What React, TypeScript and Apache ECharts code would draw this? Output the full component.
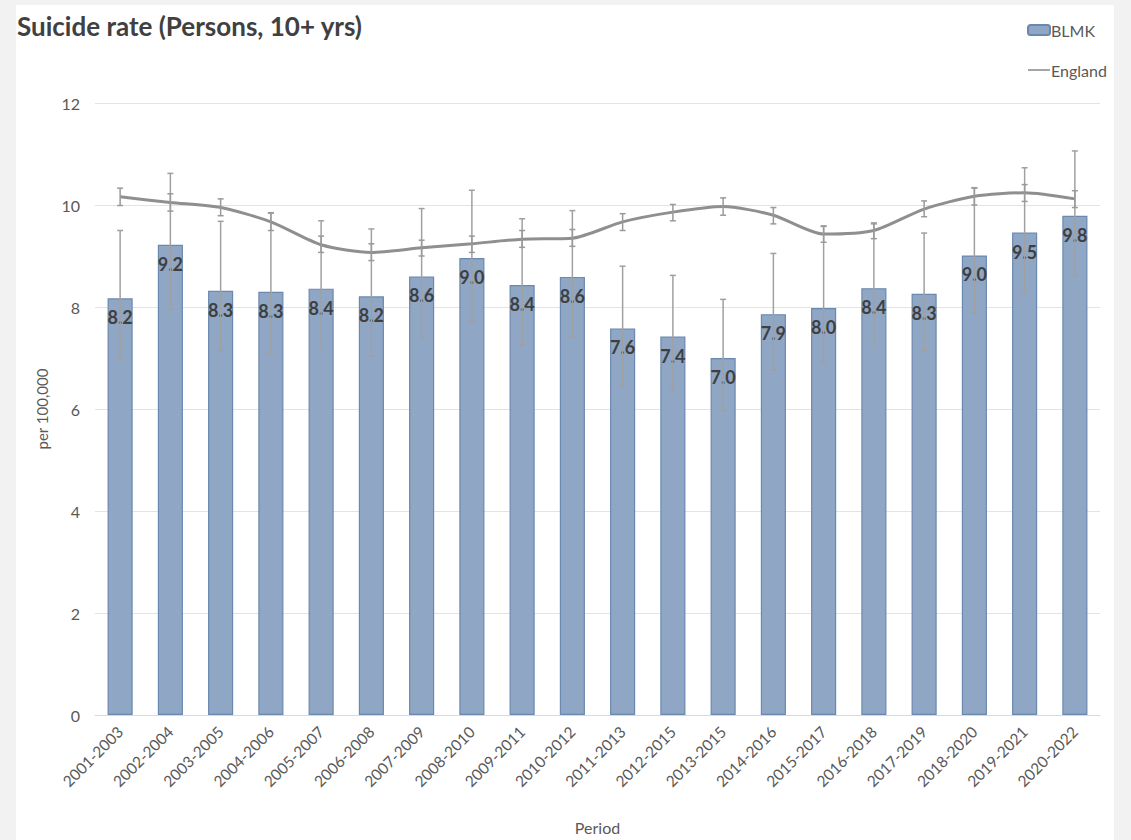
import React, { useEffect, useRef } from "react";
import * as echarts from "echarts";

const periods = [
  "2001-2003", "2002-2004", "2003-2005", "2004-2006", "2005-2007",
  "2006-2008", "2007-2009", "2008-2010", "2009-2011", "2010-2012",
  "2011-2013", "2012-2015", "2013-2015", "2014-2016", "2015-2017",
  "2016-2018", "2017-2019", "2018-2020", "2019-2021", "2020-2022",
];
const blmk = [8.17, 9.22, 8.32, 8.3, 8.36, 8.21, 8.6, 8.96, 8.43, 8.59, 7.58, 7.42, 7.0, 7.86, 7.98, 8.37, 8.26, 9.01, 9.46, 9.79];
const blmkLow = [6.96, 7.95, 7.13, 7.11, 7.17, 7.04, 7.4, 7.73, 7.26, 7.41, 6.47, 6.36, 5.97, 6.76, 6.9, 7.28, 7.15, 7.88, 8.29, 8.62];
const blmkHigh = [9.5, 10.62, 9.68, 9.85, 9.69, 9.53, 9.93, 10.29, 9.73, 9.89, 8.8, 8.62, 8.15, 9.05, 9.58, 9.65, 9.45, 10.34, 10.73, 11.06];
const england = [10.16, 10.05, 9.95, 9.67, 9.22, 9.07, 9.16, 9.24, 9.33, 9.35, 9.67, 9.86, 9.97, 9.8, 9.43, 9.5, 9.92, 10.17, 10.24, 10.12];
const englandLow = [9.99, 9.88, 9.79, 9.5, 9.07, 8.91, 9.0, 9.07, 9.17, 9.19, 9.5, 9.69, 9.8, 9.63, 9.27, 9.34, 9.77, 10.0, 10.07, 9.95];
const englandHigh = [10.33, 10.22, 10.12, 9.84, 9.39, 9.24, 9.31, 9.39, 9.5, 9.52, 9.83, 10.01, 10.14, 9.95, 9.59, 9.63, 10.08, 10.33, 10.4, 10.28];
const yTicks = [0, 2, 4, 6, 8, 10, 12];

const FONT = "Lato, 'Open Sans', sans-serif";
const TEXT = "#595959";
const ERR = "#a0a0a0";

function errorRender(color: string) {
  return (params: any, api: any) => {
    const x = api.value(0);
    const lo = api.coord([x, api.value(1)]);
    const hi = api.coord([x, api.value(2)]);
    const c = 3;
    const style = { stroke: color, lineWidth: 1.5 };
    return {
      type: "group",
      children: [
        { type: "line", shape: { x1: lo[0], y1: lo[1], x2: hi[0], y2: hi[1] }, style },
        { type: "line", shape: { x1: lo[0] - c, y1: lo[1], x2: lo[0] + c, y2: lo[1] }, style },
        { type: "line", shape: { x1: hi[0] - c, y1: hi[1], x2: hi[0] + c, y2: hi[1] }, style },
      ],
    };
  };
}

export default function App() {
  const ref = useRef<HTMLDivElement>(null);
  useEffect(() => {
    document.body.style.margin = "0";
    const chart = echarts.init(ref.current!, null, { renderer: "svg" });
    chart.setOption({
      animation: false,
      backgroundColor: "#f2f2f2",
      graphic: {
        elements: [
          {
            type: "rect",
            z: -10,
            silent: true,
            shape: { x: 16, y: 5, width: 1098, height: 840 },
            style: { fill: "#ffffff" },
          },
          {
            type: "text",
            left: 17,
            top: 13,
            style: {
              text: "Suicide rate (Persons, 10+ yrs)",
              font: `bold 26px ${FONT}`,
              fill: "#404040",
            },
          },
        ],
      },
      legend: {
        orient: "vertical",
        left: 1022,
        top: 17,
        itemGap: 24,
        itemWidth: 22,
        itemHeight: 10,
        data: [
          { name: "BLMK" },
          { name: "England", icon: "path://M0,4.2L22,4.2L22,5.8L0,5.8Z" },
        ],
        textStyle: { fontFamily: FONT, fontSize: 16, color: TEXT, padding: [0, 0, 0, -4] },
      },
      grid: { left: 95, right: 31, top: 103, bottom: 123, containLabel: false },
      xAxis: {
        type: "category",
        data: periods,
        name: "Period",
        nameLocation: "middle",
        nameGap: 104,
        nameTextStyle: { fontFamily: FONT, fontSize: 16, color: TEXT },
        axisLine: { lineStyle: { color: "#d9d9d9" } },
        axisTick: { show: false },
        axisLabel: {
          rotate: 45,
          interval: 0,
          margin: 14,
          fontFamily: FONT,
          fontSize: 15.5,
          color: TEXT,
        },
      },
      yAxis: {
        type: "value",
        min: 0,
        max: 12,
        interval: 2,
        name: "per 100,000",
        nameLocation: "middle",
        nameGap: 46,
        nameTextStyle: { fontFamily: FONT, fontSize: 15, color: TEXT },
        axisLine: { show: false },
        axisTick: { show: false },
        splitLine: { lineStyle: { color: "#e3e3e3" } },
        axisLabel: {
          margin: 15,
          fontFamily: FONT,
          fontSize: 16,
          color: TEXT,
          formatter: (v: number) => (yTicks.includes(v) ? String(v) : ""),
        },
      },
      series: [
        {
          name: "BLMK",
          type: "bar",
          data: blmk,
          barWidth: "50%",
          itemStyle: { color: "#8fa6c4", borderColor: "#6a88b0", borderWidth: 1.2 },
          label: {
            show: true,
            position: "insideTop",
            distance: 10,
            formatter: (p: any) => p.value.toFixed(1),
            fontFamily: FONT,
            fontWeight: "bold",
            fontSize: 18,
            color: "#3f3f3f",
          },
          z: 2,
        },
        {
          name: "BLMK CI",
          type: "custom",
          renderItem: errorRender(ERR),
          data: periods.map((_, i) => [i, blmkLow[i], blmkHigh[i]]),
          encode: { x: 0, y: [1, 2] },
          z: 3,
          silent: true,
        },
        {
          name: "England",
          type: "line",
          data: england,
          smooth: 0.25,
          symbol: "none",
          lineStyle: { color: "#8f8f8f", width: 3 },
          itemStyle: { color: "#8f8f8f" },
          z: 4,
        },
        {
          name: "England CI",
          type: "custom",
          renderItem: errorRender("#9a9a9a"),
          data: periods.map((_, i) => [i, englandLow[i], englandHigh[i]]),
          encode: { x: 0, y: [1, 2] },
          z: 5,
          silent: true,
        },
      ],
    });
    return () => chart.dispose();
  }, []);
  return <div ref={ref} style={{ width: 1131, height: 840 }} />;
}
